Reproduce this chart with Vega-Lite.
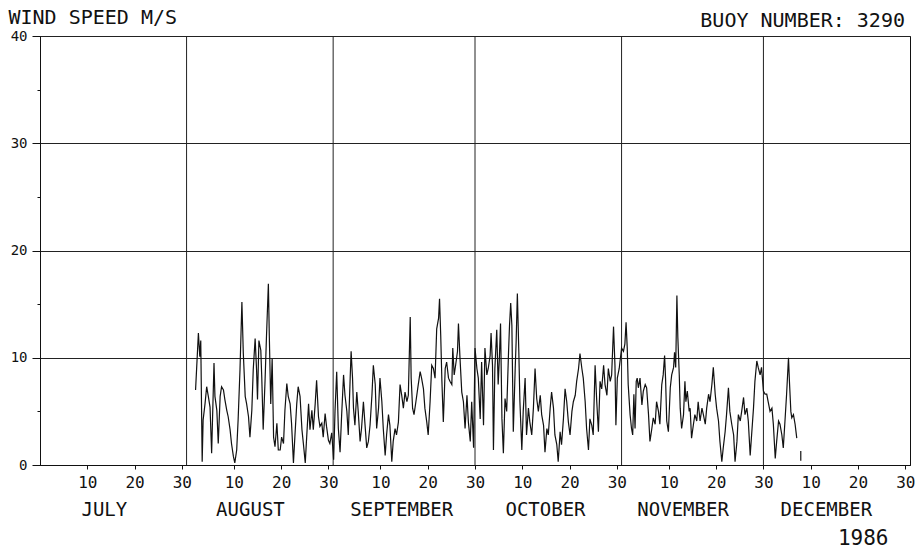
{
  "$schema": "https://vega.github.io/schema/vega-lite/v6.json",
  "width": 870,
  "height": 429,
  "autosize": {"type": "none"},
  "padding": {"left": 40, "top": 36, "right": 8, "bottom": 88},
  "background": "white",
  "config": {"view": {"stroke": "#111", "strokeWidth": 1}, "font": "DejaVu Sans Mono"},
  "title": {"text": "BUOY NUMBER: 3290", "anchor": "end", "orient": "top", "frame": "group", "offset": -17, "baseline": "alphabetic", "dx": -5, "dy": 23, "fontSize": 20, "font": "DejaVu Sans Mono", "fontWeight": "normal", "color": "#111"},
  "encoding": {
    "x": {
      "field": "d", "type": "quantitative",
      "scale": {"domain": [0, 184], "nice": false, "zero": false},
      "axis": {
        "values": [10, 13.5, 20, 30, 41, 44.4, 51, 61, 72, 76.4, 82, 92, 102, 106.8, 112, 122, 133, 135.9, 143, 153, 163, 166.2, 173, 183],
        "labelExpr": "datum.value % 1 != 0 ? (datum.value < 31 ? 'JULY' : datum.value < 62 ? 'AUGUST' : datum.value < 92 ? 'SEPTEMBER' : datum.value < 123 ? 'OCTOBER' : datum.value < 153 ? 'NOVEMBER' : 'DECEMBER') : (datum.value <= 31 ? datum.value : datum.value <= 62 ? datum.value - 31 : datum.value <= 92 ? datum.value - 62 : datum.value <= 123 ? datum.value - 92 : datum.value <= 153 ? datum.value - 123 : datum.value - 153)",
        "labelFontSize": {"condition": {"test": "datum.value % 1 != 0", "value": 19}, "value": 16},
        "labelPadding": {"condition": {"test": "datum.value % 1 != 0", "value": 31}, "value": 5},
        "tickOpacity": {"condition": {"test": "datum.value % 1 != 0", "value": 0}, "value": 1},
        "labelBaseline": "top",
        "tickSize": 4,
        "labelOverlap": false,
        "labelFlush": false,
        "labelBound": false,
        "grid": false,
        "domainColor": "#111",
        "tickColor": "#111",
        "labelColor": "#111",
        "labelFont": "DejaVu Sans Mono",
        "title": "1986",
        "titleFont": "DejaVu Sans Mono",
        "titleFontSize": 21,
        "titleFontWeight": "normal",
        "titleColor": "#111",
        "titleAlign": "right",
        "titleBaseline": "alphabetic",
        "titleX": 848,
        "titleY": 79
      }
    }
  },
  "layer": [
    {
      "data": {"values": [{"d": 31}, {"d": 62}, {"d": 92}, {"d": 123}, {"d": 153}]},
      "mark": {"type": "rule", "color": "#222", "strokeWidth": 1}
    },
    {
      "data": {"values": [
        {"d":32.9,"v":7.0,"s":1},{"d":33.5,"v":12.3,"s":1},{"d":33.8,"v":10.1,"s":1},{"d":34.0,"v":11.6,"s":1},{"d":34.3,"v":0.3,"s":1},{"d":34.5,"v":4.2,"s":1},{"d":34.9,"v":5.7,"s":1},{"d":35.25,"v":7.3,"s":1},{"d":35.6,"v":6.4,"s":1},{"d":35.96,"v":5.4,"s":1},{"d":36.3,"v":1.1,"s":1},{"d":36.8,"v":9.5,"s":1},{"d":37.0,"v":6.4,"s":1},{"d":37.4,"v":5.1,"s":1},{"d":37.7,"v":2.0,"s":1},{"d":38.1,"v":6.4,"s":1},{"d":38.4,"v":7.3,"s":1},{"d":38.8,"v":7.0,"s":1},{"d":39.1,"v":6.1,"s":1},{"d":39.5,"v":5.1,"s":1},{"d":39.8,"v":4.5,"s":1},{"d":40.2,"v":3.3,"s":1},{"d":40.5,"v":2.0,"s":1},{"d":40.9,"v":0.8,"s":1},{"d":41.2,"v":0.2,"s":1},{"d":41.6,"v":1.4,"s":1},{"d":41.9,"v":4.2,"s":1},{"d":42.3,"v":8.9,"s":1},{"d":42.7,"v":15.2,"s":1},{"d":43.0,"v":10.4,"s":1},{"d":43.4,"v":6.4,"s":1},{"d":43.7,"v":5.7,"s":1},{"d":44.1,"v":4.5,"s":1},{"d":44.4,"v":2.6,"s":1},{"d":44.8,"v":5.1,"s":1},{"d":45.1,"v":8.9,"s":1},{"d":45.5,"v":11.8,"s":1},{"d":45.8,"v":8.9,"s":1},{"d":46.0,"v":6.1,"s":1},{"d":46.3,"v":11.6,"s":1},{"d":46.7,"v":10.7,"s":1},{"d":46.9,"v":8.2,"s":1},{"d":47.2,"v":3.3,"s":1},{"d":47.6,"v":7.9,"s":1},{"d":47.9,"v":12.0,"s":1},{"d":48.3,"v":16.9,"s":1},{"d":48.5,"v":12.0,"s":1},{"d":48.8,"v":5.7,"s":1},{"d":49.1,"v":9.9,"s":1},{"d":49.4,"v":2.6,"s":1},{"d":49.7,"v":1.7,"s":1},{"d":50.1,"v":3.9,"s":1},{"d":50.4,"v":1.4,"s":1},{"d":50.8,"v":1.4,"s":1},{"d":51.1,"v":2.6,"s":1},{"d":51.5,"v":2.0,"s":1},{"d":51.8,"v":5.1,"s":1},{"d":52.2,"v":7.6,"s":1},{"d":52.5,"v":6.4,"s":1},{"d":52.9,"v":5.7,"s":1},{"d":53.2,"v":3.9,"s":1},{"d":53.6,"v":0.2,"s":1},{"d":53.9,"v":2.6,"s":1},{"d":54.3,"v":5.7,"s":1},{"d":54.6,"v":7.3,"s":1},{"d":55.0,"v":6.4,"s":1},{"d":55.4,"v":3.3,"s":1},{"d":55.7,"v":2.0,"s":1},{"d":56.1,"v":0.2,"s":1},{"d":56.4,"v":2.6,"s":1},{"d":56.8,"v":5.7,"s":1},{"d":57.1,"v":3.3,"s":1},{"d":57.5,"v":5.1,"s":1},{"d":57.8,"v":3.3,"s":1},{"d":58.2,"v":5.7,"s":1},{"d":58.5,"v":7.9,"s":1},{"d":58.9,"v":4.5,"s":1},{"d":59.2,"v":3.6,"s":1},{"d":59.6,"v":3.9,"s":1},{"d":59.9,"v":2.6,"s":1},{"d":60.3,"v":4.8,"s":1},{"d":60.6,"v":3.6,"s":1},{"d":61.0,"v":2.3,"s":1},{"d":61.3,"v":2.0,"s":1},{"d":61.7,"v":3.0,"s":1},{"d":62.1,"v":0.5,"s":1},{"d":62.4,"v":5.1,"s":1},
        {"d":62.75,"v":8.7,"s":1},{"d":63.1,"v":3.4,"s":1},{"d":63.46,"v":1.2,"s":1},{"d":63.8,"v":4.7,"s":1},{"d":64.2,"v":8.4,"s":1},{"d":64.5,"v":6.5,"s":1},{"d":64.9,"v":5.0,"s":1},{"d":65.2,"v":2.8,"s":1},{"d":65.6,"v":8.1,"s":1},{"d":65.8,"v":10.6,"s":1},{"d":66.1,"v":8.1,"s":1},{"d":66.3,"v":5.3,"s":1},{"d":66.6,"v":3.7,"s":1},{"d":67.0,"v":6.8,"s":1},{"d":67.3,"v":5.0,"s":1},{"d":67.7,"v":2.2,"s":1},{"d":68.0,"v":3.4,"s":1},{"d":68.4,"v":5.9,"s":1},{"d":68.7,"v":4.0,"s":1},{"d":69.1,"v":1.6,"s":1},{"d":69.45,"v":2.2,"s":1},{"d":69.8,"v":3.7,"s":1},{"d":70.2,"v":6.5,"s":1},{"d":70.5,"v":9.3,"s":1},{"d":70.9,"v":7.5,"s":1},{"d":71.2,"v":3.4,"s":1},{"d":71.6,"v":5.3,"s":1},{"d":71.9,"v":8.1,"s":1},{"d":72.3,"v":5.9,"s":1},{"d":72.6,"v":3.4,"s":1},{"d":73.0,"v":0.9,"s":1},{"d":73.3,"v":2.8,"s":1},{"d":73.7,"v":4.7,"s":1},{"d":74.0,"v":3.7,"s":1},{"d":74.4,"v":0.3,"s":1},{"d":74.7,"v":2.2,"s":1},{"d":75.1,"v":3.4,"s":1},{"d":75.4,"v":2.8,"s":1},{"d":75.8,"v":4.0,"s":1},{"d":76.15,"v":7.5,"s":1},{"d":76.5,"v":6.5,"s":1},{"d":76.85,"v":5.3,"s":1},{"d":77.2,"v":6.8,"s":1},{"d":77.6,"v":5.9,"s":1},{"d":77.9,"v":6.5,"s":1},{"d":78.3,"v":13.8,"s":1},{"d":78.5,"v":8.1,"s":1},{"d":78.8,"v":5.3,"s":1},{"d":79.1,"v":4.7,"s":1},{"d":79.5,"v":5.9,"s":1},{"d":80.0,"v":7.5,"s":1},{"d":80.4,"v":8.7,"s":1},{"d":80.7,"v":8.1,"s":1},{"d":81.1,"v":7.1,"s":1},{"d":81.4,"v":5.3,"s":1},{"d":81.8,"v":4.0,"s":1},{"d":82.1,"v":2.8,"s":1},{"d":82.5,"v":5.9,"s":1},{"d":82.85,"v":9.3,"s":1},{"d":83.2,"v":9.0,"s":1},{"d":83.55,"v":8.1,"s":1},{"d":83.9,"v":12.7,"s":1},{"d":84.3,"v":13.7,"s":1},{"d":84.5,"v":15.5,"s":1},{"d":84.75,"v":12.1,"s":1},{"d":85.0,"v":7.8,"s":1},{"d":85.3,"v":4.0,"s":1},{"d":85.7,"v":9.0,"s":1},{"d":86.0,"v":9.6,"s":1},{"d":86.4,"v":8.1,"s":1},{"d":86.7,"v":7.8,"s":1},{"d":87.1,"v":7.5,"s":1},{"d":87.3,"v":10.9,"s":1},{"d":87.6,"v":8.4,"s":1},{"d":87.9,"v":9.3,"s":1},{"d":88.3,"v":10.6,"s":1},{"d":88.5,"v":13.2,"s":1},{"d":88.8,"v":10.2,"s":1},{"d":89.2,"v":6.8,"s":1},{"d":89.55,"v":5.9,"s":1},{"d":89.9,"v":3.4,"s":1},{"d":90.3,"v":6.5,"s":1},{"d":90.6,"v":4.0,"s":1},{"d":91.0,"v":2.2,"s":1},{"d":91.3,"v":5.9,"s":1},{"d":91.7,"v":1.6,"s":1},{"d":92.0,"v":10.9,"s":1},{"d":92.4,"v":9.0,"s":1},{"d":92.7,"v":8.1,"s":1},
        {"d":93.1,"v":4.3,"s":1},{"d":93.4,"v":9.6,"s":1},{"d":93.8,"v":3.7,"s":1},{"d":94.1,"v":10.9,"s":1},{"d":94.5,"v":8.4,"s":1},{"d":94.8,"v":9.0,"s":1},{"d":95.2,"v":10.2,"s":1},{"d":95.4,"v":12.3,"s":1},{"d":95.7,"v":9.3,"s":1},{"d":95.9,"v":1.4,"s":1},{"d":96.2,"v":9.0,"s":1},{"d":96.6,"v":12.6,"s":1},{"d":96.9,"v":7.5,"s":1},{"d":97.15,"v":9.9,"s":1},{"d":97.4,"v":13.2,"s":1},{"d":97.7,"v":4.3,"s":1},{"d":98.0,"v":1.1,"s":1},{"d":98.35,"v":6.2,"s":1},{"d":98.7,"v":5.0,"s":1},{"d":99.1,"v":10.6,"s":1},{"d":99.3,"v":13.0,"s":1},{"d":99.55,"v":15.1,"s":1},{"d":99.8,"v":13.0,"s":1},{"d":100.1,"v":3.1,"s":1},{"d":100.5,"v":9.0,"s":1},{"d":100.7,"v":11.5,"s":1},{"d":100.96,"v":16.0,"s":1},{"d":101.25,"v":10.9,"s":1},{"d":101.5,"v":5.9,"s":1},{"d":101.9,"v":1.4,"s":1},{"d":102.2,"v":5.0,"s":1},{"d":102.6,"v":8.1,"s":1},{"d":102.9,"v":2.8,"s":1},{"d":103.3,"v":5.3,"s":1},{"d":103.6,"v":4.0,"s":1},{"d":104.0,"v":2.8,"s":1},{"d":104.35,"v":5.3,"s":1},{"d":104.7,"v":9.0,"s":1},{"d":105.05,"v":6.2,"s":1},{"d":105.4,"v":5.0,"s":1},{"d":105.8,"v":6.5,"s":1},{"d":106.1,"v":4.7,"s":1},{"d":106.5,"v":3.7,"s":1},{"d":106.8,"v":1.2,"s":1},{"d":107.2,"v":3.4,"s":1},{"d":107.5,"v":2.8,"s":1},{"d":107.9,"v":5.3,"s":1},{"d":108.2,"v":6.8,"s":1},{"d":108.6,"v":5.3,"s":1},{"d":108.9,"v":2.8,"s":1},{"d":109.3,"v":1.9,"s":1},{"d":109.6,"v":0.3,"s":1},{"d":110.0,"v":3.1,"s":1},{"d":110.3,"v":1.9,"s":1},{"d":110.7,"v":4.3,"s":1},{"d":111.05,"v":7.1,"s":1},{"d":111.4,"v":5.9,"s":1},{"d":111.75,"v":4.0,"s":1},{"d":112.1,"v":2.8,"s":1},{"d":112.5,"v":5.0,"s":1},{"d":112.8,"v":5.9,"s":1},{"d":113.2,"v":6.5,"s":1},{"d":113.5,"v":7.8,"s":1},{"d":113.9,"v":9.0,"s":1},{"d":114.2,"v":10.4,"s":1},{"d":114.6,"v":9.0,"s":1},{"d":114.9,"v":8.1,"s":1},{"d":115.3,"v":5.9,"s":1},{"d":115.6,"v":3.4,"s":1},{"d":116.0,"v":1.4,"s":1},{"d":116.3,"v":4.3,"s":1},{"d":116.7,"v":3.7,"s":1},{"d":117.0,"v":2.8,"s":1},{"d":117.4,"v":9.3,"s":1},{"d":117.75,"v":5.9,"s":1},{"d":118.1,"v":3.1,"s":1},{"d":118.45,"v":7.8,"s":1},{"d":118.8,"v":7.1,"s":1},{"d":119.2,"v":9.3,"s":1},{"d":119.5,"v":7.5,"s":1},{"d":119.9,"v":6.5,"s":1},{"d":120.2,"v":9.0,"s":1},{"d":120.6,"v":7.8,"s":1},{"d":120.9,"v":8.4,"s":1},{"d":121.3,"v":12.9,"s":1},{"d":121.6,"v":9.3,"s":1},{"d":121.8,"v":3.7,"s":1},{"d":122.1,"v":8.1,"s":1},{"d":122.5,"v":9.0,"s":1},
        {"d":123.0,"v":10.9,"s":1},{"d":123.4,"v":10.6,"s":1},{"d":123.7,"v":11.3,"s":1},{"d":123.95,"v":13.3,"s":1},{"d":124.2,"v":10.9,"s":1},{"d":124.4,"v":7.5,"s":1},{"d":124.8,"v":4.7,"s":1},{"d":125.1,"v":3.4,"s":1},{"d":125.35,"v":2.8,"s":1},{"d":125.6,"v":6.6,"s":1},{"d":125.85,"v":3.4,"s":1},{"d":126.1,"v":7.8,"s":1},{"d":126.3,"v":8.1,"s":1},{"d":126.55,"v":7.2,"s":1},{"d":126.9,"v":8.1,"s":1},{"d":127.3,"v":5.6,"s":1},{"d":127.6,"v":6.9,"s":1},{"d":128.0,"v":7.5,"s":1},{"d":128.3,"v":7.2,"s":1},{"d":128.7,"v":4.7,"s":1},{"d":129.0,"v":2.2,"s":1},{"d":129.4,"v":3.4,"s":1},{"d":129.7,"v":4.4,"s":1},{"d":130.1,"v":3.8,"s":1},{"d":130.4,"v":5.9,"s":1},{"d":130.8,"v":5.0,"s":1},{"d":131.1,"v":3.8,"s":1},{"d":131.5,"v":7.5,"s":1},{"d":131.8,"v":8.4,"s":1},{"d":132.1,"v":10.2,"s":1},{"d":132.3,"v":8.1,"s":1},{"d":132.55,"v":4.1,"s":1},{"d":132.9,"v":3.1,"s":1},{"d":133.3,"v":7.2,"s":1},{"d":133.6,"v":8.4,"s":1},{"d":134.0,"v":9.1,"s":1},{"d":134.2,"v":10.5,"s":1},{"d":134.45,"v":9.1,"s":1},{"d":134.7,"v":15.8,"s":1},{"d":134.9,"v":11.9,"s":1},{"d":135.2,"v":8.4,"s":1},{"d":135.4,"v":5.3,"s":1},{"d":135.7,"v":3.4,"s":1},{"d":136.1,"v":4.7,"s":1},{"d":136.4,"v":7.8,"s":1},{"d":136.6,"v":5.9,"s":1},{"d":136.9,"v":6.9,"s":1},{"d":137.3,"v":5.0,"s":1},{"d":137.5,"v":5.3,"s":1},{"d":137.8,"v":2.5,"s":1},{"d":138.2,"v":3.8,"s":1},{"d":138.5,"v":4.7,"s":1},{"d":138.9,"v":4.1,"s":1},{"d":139.2,"v":5.9,"s":1},{"d":139.6,"v":4.1,"s":1},{"d":140.0,"v":5.3,"s":1},{"d":140.3,"v":4.7,"s":1},{"d":140.7,"v":3.8,"s":1},{"d":141.0,"v":5.3,"s":1},{"d":141.4,"v":6.6,"s":1},{"d":141.7,"v":5.9,"s":1},{"d":142.1,"v":7.5,"s":1},{"d":142.4,"v":9.1,"s":1},{"d":142.8,"v":6.6,"s":1},{"d":143.1,"v":5.3,"s":1},{"d":143.5,"v":4.1,"s":1},{"d":143.8,"v":2.2,"s":1},{"d":144.2,"v":0.3,"s":1},{"d":144.5,"v":1.6,"s":1},{"d":144.9,"v":3.1,"s":1},{"d":145.2,"v":4.7,"s":1},{"d":145.6,"v":7.2,"s":1},{"d":145.9,"v":5.0,"s":1},{"d":146.3,"v":3.8,"s":1},{"d":146.7,"v":2.8,"s":1},{"d":147.0,"v":0.3,"s":1},{"d":147.4,"v":2.2,"s":1},{"d":147.7,"v":4.7,"s":1},{"d":148.1,"v":4.1,"s":1},{"d":148.4,"v":5.0,"s":1},{"d":148.8,"v":6.3,"s":1},{"d":149.1,"v":4.7,"s":1},{"d":149.5,"v":5.3,"s":1},{"d":149.8,"v":4.1,"s":1},{"d":150.2,"v":0.9,"s":1},{"d":150.5,"v":2.8,"s":1},{"d":150.9,"v":5.3,"s":1},{"d":151.2,"v":7.8,"s":1},{"d":151.6,"v":9.7,"s":1},{"d":151.9,"v":9.1,"s":1},{"d":152.3,"v":8.4,"s":1},{"d":152.6,"v":9.1,"s":1},{"d":153.0,"v":6.9,"s":1},{"d":153.35,"v":6.6,"s":1},{"d":153.7,"v":6.6,"s":1},{"d":154.0,"v":5.9,"s":1},{"d":154.4,"v":5.0,"s":1},{"d":154.8,"v":5.3,"s":1},{"d":155.1,"v":3.8,"s":1},{"d":155.5,"v":0.6,"s":1},{"d":155.8,"v":2.2,"s":1},{"d":156.2,"v":4.1,"s":1},{"d":156.5,"v":3.8,"s":1},{"d":156.9,"v":2.8,"s":1},{"d":157.2,"v":1.6,"s":1},{"d":157.6,"v":4.4,"s":1},{"d":157.9,"v":6.6,"s":1},{"d":158.3,"v":10.0,"s":1},{"d":158.5,"v":7.8,"s":1},{"d":158.8,"v":5.0,"s":1},{"d":159.0,"v":4.4,"s":1},{"d":159.35,"v":4.7,"s":1},{"d":159.7,"v":3.8,"s":1},{"d":160.05,"v":2.5,"s":1},
        {"d":160.9,"v":0.4,"s":2},{"d":160.9,"v":1.3,"s":2}
      ]},
      "mark": {"type": "line", "color": "#111", "strokeWidth": 1.2},
      "encoding": {
        "y": {
          "field": "v", "type": "quantitative",
          "scale": {"domain": [0, 40], "nice": false},
          "axis": {
            "values": [0, 5, 10, 15, 20, 25, 30, 35, 40],
            "labelExpr": "datum.value % 10 == 0 ? datum.label : ''",
            "labelFont": "DejaVu Sans Mono",
            "labelFontSize": 14,
            "labelColor": "#111",
            "labelPadding": 5,
            "tickSize": {"condition": {"test": "datum.value % 10 == 0", "value": 8}, "value": 3},
            "tickColor": "#111",
            "domainColor": "#111",
            "grid": true,
            "gridColor": "#222",
            "gridOpacity": {"condition": {"test": "datum.value % 10 == 0", "value": 1}, "value": 0},
            "labelFlush": false,
            "labelBound": false,
            "labelOverlap": false,
            "title": "WIND SPEED M/S",
            "titleFont": "DejaVu Sans Mono",
            "titleFontSize": 20,
            "titleFontWeight": "normal",
            "titleColor": "#111",
            "titleAngle": 0,
            "titleAlign": "left",
            "titleBaseline": "alphabetic",
            "titleX": -32,
            "titleY": -13
          }
        },
        "detail": {"field": "s", "type": "nominal"}
      }
    }
  ]
}
